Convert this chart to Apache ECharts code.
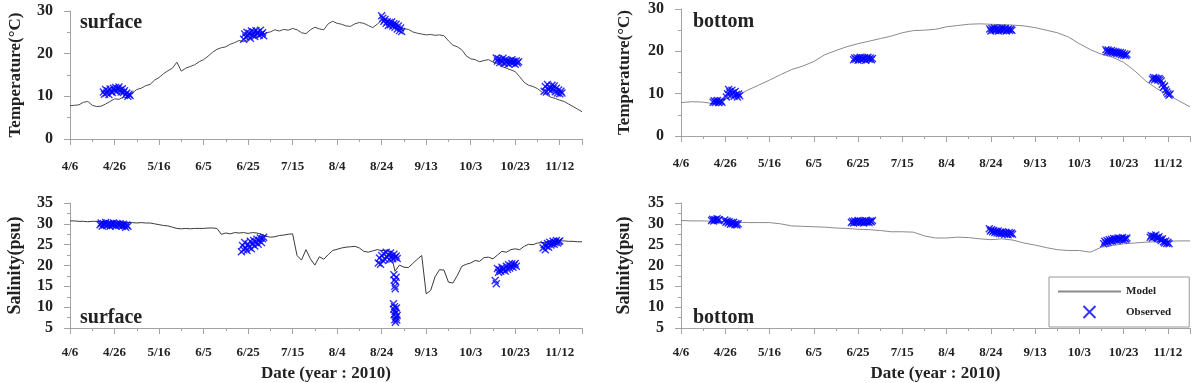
<!DOCTYPE html>
<html>
<head>
<meta charset="utf-8">
<script src="https://cdn.jsdelivr.net/npm/echarts@6/dist/echarts.min.js"></script>
<style>
  html, body { margin: 0; padding: 0; background: #fff; }
  #chart { width: 1203px; height: 383px; }
</style>
</head>
<body>
<div id="chart"></div>
<script>
// days counted from 4/6/2010
const START = new Date(2010, 3, 6);
const xTicks = [0, 20, 40, 60, 80, 100, 120, 140, 160, 180, 200, 220];

// model output, surface sampled every 2 days, bottom every 5 days
const surfTempModel = [
  7.8, 7.9, 8.0, 8.6, 8.8, 7.9, 7.6, 7.7, 8.2, 8.8,
  9.4, 9.3, 9.8, 9.7, 10.8, 11.6, 11.9, 12.5, 12.8, 13.8,
  14.4, 15.3, 16.0, 16.6, 18.0, 15.9, 16.6, 17.0, 17.4, 18.1,
  18.6, 19.4, 20.3, 21.0, 21.4, 21.6, 22.2, 22.6, 23.1, 22.8,
  23.4, 23.8, 24.0, 24.3, 24.9, 25.1, 25.6, 25.3, 25.7, 25.5,
  25.9, 25.6, 24.9, 24.7, 25.6, 26.2, 25.8, 25.6, 27.0, 27.6,
  27.1, 26.9, 26.5, 26.4, 27.0, 27.3, 27.1, 26.6, 26.1, 26.9,
  27.8, 28.0, 27.5, 26.8, 26.2, 25.8, 25.7, 25.1, 24.8, 24.6,
  24.4, 24.5, 24.3, 24.4, 24.2, 23.0, 22.0, 21.6, 20.9, 19.5,
  18.8, 18.6, 18.1, 18.4, 18.6, 18.0, 17.7, 17.0, 16.6, 16.2,
  15.8, 14.6, 13.3, 12.6, 12.3, 11.8, 11.0, 10.4, 9.8, 9.5,
  9.1, 8.8, 8.2, 7.6, 7.0, 6.4
];
const botTempModel = [
  7.9, 8.1, 8.0, 7.6, 8.7, 9.4, 10.8, 12.0, 13.2, 14.5,
  15.7, 16.5, 17.6, 19.2, 20.2, 21.1, 21.8, 22.4, 23.0, 23.6,
  24.4, 24.9, 25.0, 25.2, 25.8, 26.1, 26.4, 26.5, 26.4, 26.3,
  26.2, 26.0, 25.6, 25.0, 24.4, 23.4, 21.8, 20.4, 19.3, 18.6,
  17.4, 15.4, 13.0, 11.2, 9.8, 8.3, 6.9
];
const surfSalModel = [
  30.7, 30.7, 30.6, 30.6, 30.5, 30.6, 30.6, 30.5, 30.5, 30.4,
  30.5, 30.4, 30.4, 30.3, 30.3, 30.2, 30.3, 30.2, 30.2, 30.0,
  29.8, 29.6, 29.5, 29.2, 28.9, 28.8, 28.9, 28.8, 28.9, 28.9,
  28.9, 29.0, 29.0, 28.9, 27.5, 27.8, 27.6, 27.9, 27.8, 27.9,
  27.7, 27.9, 27.8, 27.5, 27.0, 26.8, 26.9, 27.2, 27.3, 27.5,
  27.6, 22.4, 21.3, 23.8, 21.6, 20.1, 22.1, 21.5, 22.6, 23.6,
  23.9, 24.2, 24.4, 24.5, 24.6, 24.2, 23.4, 23.2, 23.5, 23.8,
  23.6, 23.7, 23.4, 18.6, 20.1, 19.6, 19.5, 20.5, 21.5, 22.4,
  13.2, 14.0, 17.3, 19.0, 18.9, 16.0, 15.8, 17.6, 19.8, 20.3,
  20.6, 21.2, 21.0, 21.9, 22.0, 21.6, 22.5, 23.4, 23.2, 23.8,
  24.0, 23.8, 24.6, 25.1, 25.0, 25.4, 25.5, 25.6, 25.8, 25.8,
  25.9, 25.9, 25.8, 25.8, 25.7, 25.7
];
const botSalModel = [
  30.8, 30.7, 30.7, 30.6, 30.6, 30.4, 30.3, 30.3, 30.3, 30.0,
  29.5, 29.4, 29.3, 29.2, 29.0, 28.9, 28.7, 28.6, 28.4, 28.1,
  28.1, 28.0, 27.1, 26.6, 26.6, 26.8, 26.7, 26.4, 26.2, 26.4,
  26.1, 25.4, 24.9, 24.3, 23.8, 23.6, 23.6, 23.2, 24.4, 24.8,
  25.2, 25.4, 25.6, 25.7, 25.8, 25.9, 25.9
];

// observed clusters: [first day, step in days, values]
const surfTempObs = [
  [15, 0.5, [11.0, 10.5, 11.6, 10.8, 11.3, 10.4, 11.7, 11.1, 10.9, 11.9, 11.4, 12.1, 11.2, 11.8, 12.2, 11.5, 11.0, 11.8, 10.9, 11.3, 10.4, 10.8, 10.0, 10.5, 10.2]],
  [78, 0.5, [23.4, 24.6, 23.9, 25.0, 24.2, 24.8, 23.6, 25.3, 24.4, 25.1, 24.0, 25.4, 24.7, 25.0, 24.3, 25.5, 24.6, 24.9, 24.2]],
  [140, 0.5, [28.9, 28.3, 27.6, 28.0, 27.1, 27.5, 26.6, 27.3, 26.8, 27.4, 26.5, 27.0, 26.2, 26.9, 25.8, 26.5, 25.4, 26.0, 25.2]],
  [191.5, 0.5, [19.0, 18.3, 18.8, 17.9, 18.6, 18.1, 18.9, 17.7, 18.5, 18.0, 18.4, 17.6, 18.3, 17.9, 18.6, 17.8, 18.2, 17.5, 18.3, 17.8, 18.1]],
  [213, 0.5, [11.2, 12.3, 11.0, 12.8, 11.6, 12.0, 11.3, 12.6, 11.8, 12.4, 11.1, 11.9, 10.8, 11.5, 10.6, 11.2, 10.8]]
];
const botTempObs = [
  [14.5, 0.5, [8.0, 8.3, 7.9, 8.2, 8.4, 7.9, 8.1, 8.3, 8.0]],
  [20.5, 0.5, [9.2, 10.0, 11.0, 10.4, 9.6, 10.8, 10.2, 9.4, 10.5, 9.8, 9.2, 9.9, 9.5]],
  [78, 0.5, [18.0, 18.4, 18.1, 18.5, 17.9, 18.3, 18.6, 18.0, 18.4, 18.2, 18.5, 17.9, 18.3, 18.6, 18.1, 18.4, 18.0, 18.3]],
  [139.5, 0.5, [25.3, 24.8, 25.4, 25.0, 25.5, 24.9, 25.2, 25.4, 24.8, 25.3, 25.0, 25.5, 24.9, 25.2, 25.4, 24.8, 25.1, 25.3, 24.9, 25.2, 25.0]],
  [192, 0.5, [20.4, 19.9, 20.3, 20.0, 19.8, 20.2, 19.7, 20.0, 19.6, 19.9, 19.5, 19.8, 19.4, 19.7, 19.2, 19.6, 19.1, 19.4, 19.0, 19.3]],
  [213, 0.5, [13.4, 13.8, 13.3, 13.7, 13.5, 13.2, 13.6, 13.3, 13.0, 12.2, 11.5, 11.8, 10.9, 10.4, 10.0, 9.6, 9.9]]
];
const surfSalObs = [
  [13.5, 0.5, [29.8, 30.2, 29.5, 30.0, 29.7, 30.3, 29.6, 29.9, 30.1, 29.4, 30.0, 29.7, 30.2, 29.8, 29.5, 30.1, 29.9, 29.6, 30.0, 29.7, 29.4, 29.9, 29.6, 29.2, 29.7, 29.4]],
  [77, 0.5, [23.3, 24.8, 23.8, 25.5, 24.2, 23.6, 25.1, 24.4, 25.8, 24.0, 25.2, 26.0, 24.7, 25.6, 26.3, 25.1, 26.0, 26.6, 25.5, 26.4, 26.8]],
  [138.5, 0.5, [20.6, 21.8, 20.3, 22.4, 21.2, 22.8, 21.5, 23.2, 22.0, 22.6, 21.4, 23.0, 22.2, 21.6, 22.7, 21.9, 22.3, 21.7]],
  [145.5, 0.2, [17.8, 16.5, 15.0, 14.4, 16.1, 17.2]],
  [145.3, 0.15, [10.8, 9.5, 8.2, 10.1, 7.0, 9.0, 6.4, 8.6, 7.6, 9.8, 6.9, 8.0]],
  [191, 0.5, [16.4, 15.6, 19.3, 18.4, 19.0, 18.6, 19.6, 18.9, 19.2, 18.7, 19.8, 19.1, 20.2, 19.4, 19.9, 20.4, 19.6, 20.1, 20.5, 19.8]],
  [212.5, 0.5, [24.2, 25.0, 23.8, 24.6, 25.3, 24.4, 25.6, 24.9, 25.2, 25.8, 25.1, 25.5, 26.0, 25.4, 25.7, 25.9]]
];
const botSalObs = [
  [13.8, 0.5, [30.8, 31.1, 30.7, 31.0, 30.9, 31.2, 30.8, 31.0]],
  [19.8, 0.5, [30.9, 30.4, 30.7, 30.2, 30.5, 29.9, 30.3, 30.0, 30.4, 29.8, 30.1, 29.7, 30.0]],
  [77, 0.5, [30.3, 30.6, 30.2, 30.7, 30.4, 30.5, 30.8, 30.3, 30.6, 30.4, 30.7, 30.2, 30.5, 30.8, 30.4, 30.6, 30.3, 30.7, 30.5, 30.8]],
  [139.3, 0.5, [28.8, 28.3, 28.6, 28.1, 28.4, 27.9, 28.2, 27.8, 28.3, 27.7, 28.0, 27.6, 28.1, 27.8, 27.5, 28.0, 27.7, 27.4, 27.9, 27.6, 27.8, 27.5]],
  [191, 0.5, [25.2, 25.8, 25.4, 26.0, 25.6, 26.2, 25.8, 26.3, 25.9, 26.5, 26.1, 26.4, 26.0, 26.6, 26.2, 26.5, 26.3, 26.7, 26.1, 26.5, 26.3, 26.6]],
  [212, 0.5, [26.8, 27.2, 26.6, 27.0, 26.9, 27.3, 26.7, 26.5, 26.9, 26.3, 26.0, 26.4, 25.7, 25.4, 25.9, 25.3, 25.6, 25.2]]
];

const FONT = "'Liberation Serif', 'Times New Roman', serif";
const AXIS_GRAY = '#a3a3a3';

function modelPoints(vals, step) {
  return vals.map((v, i) => [i * step, v]);
}
function obsPoints(clusters) {
  let out = [];
  clusters.forEach(c => c[2].forEach((v, i) => out.push([c[0] + i * c[1], v])));
  return out;
}
function dateLabel(v) {
  if (xTicks.indexOf(v) < 0) return '';
  let d = new Date(START.getTime());
  d.setDate(d.getDate() + v);
  return (d.getMonth() + 1) + '/' + d.getDate();
}

const grids = [
  {left: 70, top: 11, width: 512, height: 128},
  {left: 681, top: 9, width: 509, height: 127},
  {left: 70, top: 203, width: 512, height: 129},
  {left: 681, top: 203, width: 509, height: 128}
];

function xAxis(i, withName, margin) {
  return {
    type: 'value', gridIndex: i, min: 0, max: 230, interval: 20,
    name: withName ? 'Date (year : 2010)' : '',
    nameLocation: 'middle', nameGap: 37,
    nameTextStyle: {fontFamily: FONT, fontWeight: 'bold', fontSize: 17, color: '#222'},
    axisLine: {lineStyle: {color: AXIS_GRAY, width: 1}},
    axisTick: {length: 6, lineStyle: {color: AXIS_GRAY}},
    minorTick: {show: true, splitNumber: 2, length: 3, lineStyle: {color: AXIS_GRAY}},
    splitLine: {show: false},
    axisLabel: {formatter: dateLabel, margin: margin, fontFamily: FONT, fontWeight: 'bold', fontSize: 13, color: '#222'}
  };
}
function yAxis(i, name, min, max, interval, gap, nameSize) {
  return {
    type: 'value', gridIndex: i, min: min, max: max, interval: interval,
    name: name, nameLocation: 'middle', nameGap: gap,
    nameTextStyle: {fontFamily: FONT, fontWeight: 'bold', fontSize: nameSize, color: '#222'},
    axisLine: {show: true, lineStyle: {color: AXIS_GRAY, width: 1}},
    axisTick: {show: true, length: 6, lineStyle: {color: AXIS_GRAY}},
    minorTick: {show: true, splitNumber: 2, length: 3, lineStyle: {color: AXIS_GRAY}},
    splitLine: {show: false},
    axisLabel: {margin: 17, fontFamily: FONT, fontWeight: 'bold', fontSize: 16, color: '#222'}
  };
}

const xSymbol = 'path://M0,0L10,10M10,0L0,10';
function obsSeries(i, clusters) {
  return {
    name: 'Observed', type: 'scatter', xAxisIndex: i, yAxisIndex: i,
    data: obsPoints(clusters), symbol: xSymbol, symbolSize: 7,
    itemStyle: {color: '#0000ff', borderColor: '#0000ff', borderWidth: 1.4},
    z: 3
  };
}
function modelSeries(i, vals, step, color) {
  return {
    name: 'Model', type: 'line', xAxisIndex: i, yAxisIndex: i,
    data: modelPoints(vals, step), symbol: 'none', showSymbol: false,
    lineStyle: {color: color, width: 1}, itemStyle: {color: color}, z: 2
  };
}

function label(text, x, y) {
  return {type: 'text', left: x, top: y, style: {text: text, font: 'bold 20px ' + FONT, fill: '#222'}};
}

const chart = echarts.init(document.getElementById('chart'));
chart.setOption({
  animation: false,
  grid: grids,
  xAxis: [xAxis(0, false, 21), xAxis(1, false, 21), xAxis(2, true, 18), xAxis(3, true, 18)],
  yAxis: [
    yAxis(0, 'Temperature(°C)', 0, 30, 10, 46, 17),
    yAxis(1, 'Temperature(°C)', 0, 30, 10, 48, 17),
    yAxis(2, 'Salinity(psu)', 5, 35, 5, 46, 18),
    yAxis(3, 'Salinity(psu)', 5, 35, 5, 48, 18)
  ],
  legend: {
    orient: 'vertical', left: 1049, top: 277,
    padding: [9, 18, 8, 8], itemGap: 8, itemWidth: 63, itemHeight: 12,
    backgroundColor: '#fff', borderColor: '#999', borderWidth: 1, borderRadius: 0,
    textStyle: {fontFamily: FONT, fontWeight: 'bold', fontSize: 11, color: '#222'},
    data: [{name: 'Model', itemStyle: {opacity: 0}}, 'Observed'], z: 10
  },
  graphic: [
    label('surface', 80, 13),
    label('bottom', 693, 12),
    label('surface', 80, 308),
    label('bottom', 693, 308)
  ],
  series: [
    modelSeries(3, botSalModel, 5, '#8a8a8a'),
    modelSeries(1, botTempModel, 5, '#8a8a8a'),
    modelSeries(0, surfTempModel, 2, '#4a4a4a'),
    modelSeries(2, surfSalModel, 2, '#3a3a3a'),
    obsSeries(0, surfTempObs),
    obsSeries(1, botTempObs),
    obsSeries(2, surfSalObs),
    obsSeries(3, botSalObs)
  ]
});
</script>
</body>
</html>
